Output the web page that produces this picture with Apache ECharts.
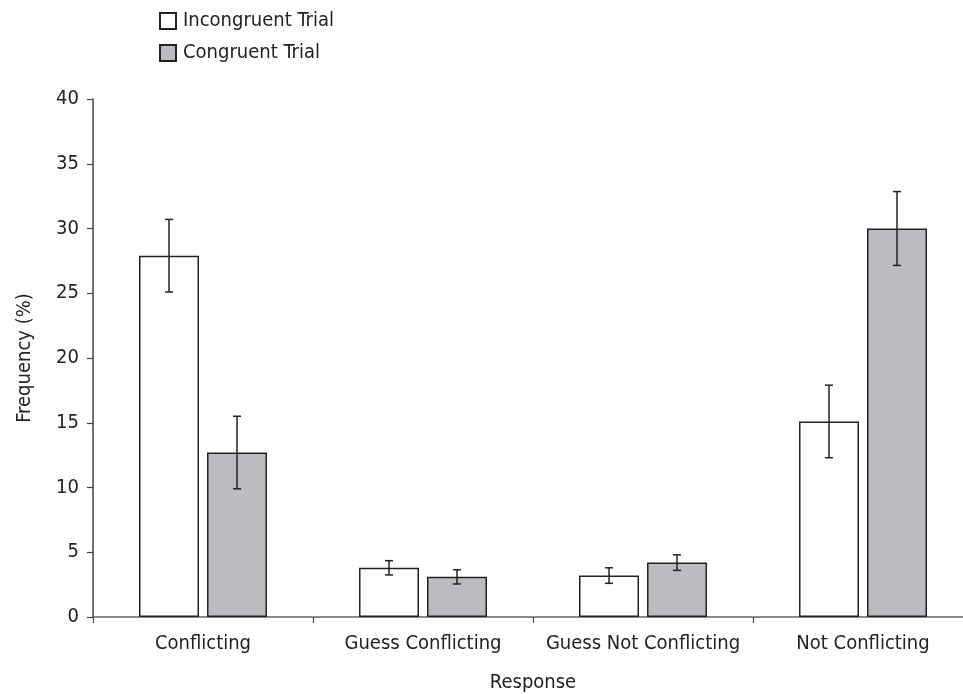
<!DOCTYPE html>
<html>
<head>
<meta charset="utf-8">
<script src="https://cdn.jsdelivr.net/npm/echarts@6/dist/echarts.min.js"></script>
<style>
  html, body { margin: 0; padding: 0; background: #fff; }
  #chart { width: 963px; height: 694px; }
</style>
</head>
<body>
<div id="chart"></div>
<script>
// categories and values
var categories = ['Conflicting', 'Guess Conflicting', 'Guess Not Conflicting', 'Not Conflicting']
var incongruent = [27.9, 3.8, 3.2, 15.1]
var incongruentErr = [2.8, 0.55, 0.6, 2.8]
var congruent = [12.7, 3.1, 4.2, 30.0]
var congruentErr = [2.8, 0.55, 0.6, 2.85]
var yTicks = [0, 5, 10, 15, 20, 25, 30, 35, 40]

var FONT = '"Liberation Sans Narrow", "DejaVu Sans Condensed", "Liberation Sans", sans-serif'
var FS = 20
var BAR_W = 60
var BAR_GAP = 8

// error bar drawn at the bar centre, shifted by half a bar + half the gap
function errorSeries (name, values, errs, side) {
  return {
    name: name + ' err',
    type: 'custom',
    data: values.map(function (v, i) { return [i, v, errs[i]] }),
    z: 10,
    silent: true,
    renderItem: function (params, api) {
      var i = api.value(0)
      var v = api.value(1)
      var e = api.value(2)
      var off = side * (BAR_W + BAR_GAP) / 2
      var hi = api.coord([i, v + e])
      var lo = api.coord([i, v - e])
      var x = hi[0] + off
      var cap = 4
      var style = { stroke: '#222', lineWidth: 1.5 }
      return {
        type: 'group',
        children: [
          { type: 'line', shape: { x1: x, y1: hi[1], x2: x, y2: lo[1] }, style: style },
          { type: 'line', shape: { x1: x - cap, y1: hi[1], x2: x + cap, y2: hi[1] }, style: style },
          { type: 'line', shape: { x1: x - cap, y1: lo[1], x2: x + cap, y2: lo[1] }, style: style }
        ]
      }
    }
  }
}

var myChart = echarts.init(document.getElementById('chart'), null, { renderer: 'canvas' })

var option = {
  backgroundColor: '#fff',
  animation: false,
  legend: {
    orient: 'vertical',
    left: 154,
    top: 6,
    itemWidth: 16,
    itemHeight: 16,
    itemGap: 12,
    icon: 'rect',
    data: ['Incongruent Trial', 'Congruent Trial'],
    textStyle: { fontFamily: FONT, fontSize: FS, color: '#222', padding: [0, 0, 0, 2] }
  },
  grid: {
    left: 93,
    top: 99,
    width: 880,
    bottom: 77,
    outerBoundsMode: 'none',
    containLabel: false
  },
  xAxis: {
    type: 'category',
    data: categories,
    name: 'Response',
    nameLocation: 'middle',
    nameGap: 56,
    nameTextStyle: { fontFamily: FONT, fontSize: FS, color: '#222' },
    axisLine: { lineStyle: { color: '#666', width: 1.5 } },
    axisTick: { show: true, length: 6, lineStyle: { color: '#444', width: 1.2 } },
    axisLabel: { interval: 0, fontFamily: FONT, fontSize: FS, color: '#222', margin: 17 }
  },
  yAxis: {
    type: 'value',
    min: yTicks[0],
    max: yTicks[yTicks.length - 1],
    interval: 5,
    name: 'Frequency (%)',
    nameLocation: 'middle',
    nameGap: 58,
    nameTextStyle: { fontFamily: FONT, fontSize: FS, color: '#222' },
    axisLine: { show: true, lineStyle: { color: '#444', width: 1.5 } },
    axisTick: { show: true, length: 6, lineStyle: { color: '#444', width: 1.2 } },
    splitLine: { show: false },
    axisLabel: { fontFamily: FONT, fontSize: FS, color: '#222', margin: 14 }
  },
  series: [
    {
      name: 'Incongruent Trial',
      type: 'bar',
      data: incongruent,
      barWidth: BAR_W,
      barGap: (BAR_GAP / BAR_W * 100) + '%',
      itemStyle: { color: '#ffffff', borderColor: '#222', borderWidth: 1.5 }
    },
    {
      name: 'Congruent Trial',
      type: 'bar',
      data: congruent,
      barWidth: BAR_W,
      itemStyle: { color: '#bbbcc0', borderColor: '#222', borderWidth: 1.5 }
    },
    errorSeries('Incongruent Trial', incongruent, incongruentErr, -1),
    errorSeries('Congruent Trial', congruent, congruentErr, 1)
  ]
}

myChart.setOption(option, true)
</script>
</body>
</html>
